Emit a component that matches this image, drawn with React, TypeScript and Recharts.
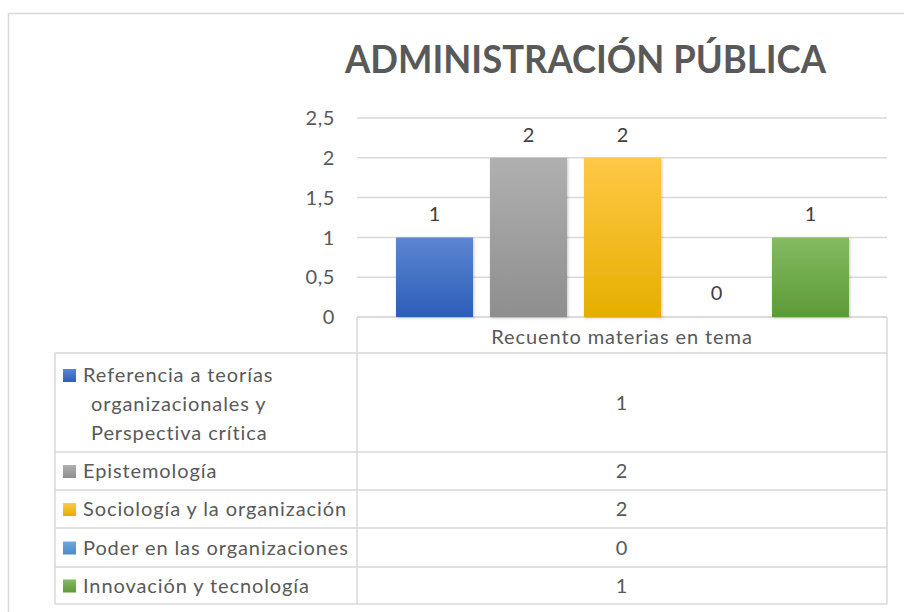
import { Bar, BarChart, CartesianGrid, LabelList, XAxis, YAxis } from 'recharts';

const chartTitle = 'ADMINISTRACIÓN PÚBLICA';
const categoryLabel = 'Recuento materias en tema';
const seriesNames = [
  'Referencia a teorías organizacionales y Perspectiva crítica',
  'Epistemología',
  'Sociología y la organización',
  'Poder en las organizaciones',
  'Innovación y tecnología'
];
const seriesValues = [1, 2, 2, 0, 1];
const yTicks = [0, 0.5, 1, 1.5, 2, 2.5];

// top / bottom colours of the bar gradients
const seriesColors = [
  ['#5d86d2', '#2c5db8'],
  ['#b0b0b0', '#8e8e8e'],
  ['#ffc846', '#e5af00'],
  ['#6fa8dc', '#4a8bc9'],
  ['#84bb63', '#5c9b35']
];

const chartData = [
  seriesValues.reduce((row: Record<string, number | string>, v, i) => {
    row['s' + i] = v;
    return row;
  }, { category: categoryLabel })
];

// legend label wrapping for the first (long) name
const legendLines = seriesNames.map((n, i) => (i === 0 ? ['Referencia a teorías', 'organizacionales y', 'Perspectiva crítica'] : [n]));

const FONT = 'Lato, "Open Sans", sans-serif';
const TEXT = '#595959';
const LINE = '#d9d9d9';
const textStyle = { fontFamily: FONT, fontSize: 20, letterSpacing: 0.9 };

// layout of the data table
const plotLeft = 357;
const plotRight = 887;
const axisY = 317;
const headerBottom = 353;
const tableLeft = 55;
const rowBottoms = [452, 490, 528, 567, 604];

function Overlay() {
  const rowTops = [headerBottom, ...rowBottoms.slice(0, -1)];
  const valueX = (plotLeft + plotRight) / 2;
  return (
    <svg width={904} height={612} style={{ position: 'absolute', left: 0, top: 0 }}>
      <defs>
        {seriesColors.map((c, i) => (
          <linearGradient key={i} id={'key' + i} x1="0" y1="0" x2="0" y2="1">
            <stop offset="0%" stopColor={c[0]} />
            <stop offset="100%" stopColor={c[1]} />
          </linearGradient>
        ))}
      </defs>
      <rect x={8.5} y={13.5} width={920} height={620} fill="#fff" stroke={LINE} strokeWidth={1.5} />
      <text x={585.5} y={73} textAnchor="middle" fill={TEXT} fontFamily={FONT} fontWeight={700} fontSize={39} textLength={481} lengthAdjust="spacingAndGlyphs">
        {chartTitle}
      </text>

      <g stroke={LINE} strokeWidth={1.5} fill="none">
        <line x1={plotLeft} y1={axisY} x2={plotRight} y2={axisY} />
        <line x1={plotLeft} y1={axisY} x2={plotLeft} y2={604} />
        <line x1={plotRight} y1={axisY} x2={plotRight} y2={604} />
        <line x1={tableLeft} y1={headerBottom} x2={plotRight} y2={headerBottom} />
        <line x1={tableLeft} y1={headerBottom} x2={tableLeft} y2={604} />
        {rowBottoms.map((y) => (
          <line key={y} x1={tableLeft} y1={y} x2={plotRight} y2={y} />
        ))}
      </g>

      <text x={valueX} y={344} textAnchor="middle" fill={TEXT} style={textStyle}>
        {categoryLabel}
      </text>

      {seriesNames.map((name, i) => {
        const top = rowTops[i];
        const bottom = rowBottoms[i];
        const lines = legendLines[i];
        const mid = (top + bottom) / 2;
        const firstY = lines.length > 1 ? top + 29 : mid + 7;
        return (
          <g key={name}>
            <rect x={63} y={firstY - 13} width={13} height={13} fill={'url(#key' + i + ')'} />
            {lines.map((ln, j) => (
              <text key={j} x={j === 0 ? 83 : 91} y={firstY + j * 29} fill={TEXT} style={textStyle}>
                {ln}
              </text>
            ))}
            <text x={valueX} y={mid + 7} textAnchor="middle" fill={TEXT} style={textStyle}>
              {seriesValues[i]}
            </text>
          </g>
        );
      })}
    </svg>
  );
}

export default function App() {
  return (
    <div style={{ position: 'relative', width: 904, height: 612, overflow: 'hidden' }}>
      <style>{'body{margin:0;overflow:hidden;}'}</style>
      <Overlay />
      <div style={{ position: 'absolute', left: 0, top: 0 }}>
        <BarChart width={904} height={612} data={chartData} margin={{ top: 118, right: 17, bottom: 295, left: 307 }} barSize={77} barGap={17}>
          <defs>
            {seriesColors.map((c, i) => (
              <linearGradient key={i} id={'bar' + i} x1="0" y1="0" x2="0" y2="1">
                <stop offset="0%" stopColor={c[0]} />
                <stop offset="100%" stopColor={c[1]} />
              </linearGradient>
            ))}
            <filter id="barShadow" x="-10%" y="-10%" width="130%" height="130%">
              <feDropShadow dx="1" dy="1" stdDeviation="1.5" floodColor="#000" floodOpacity="0.22" />
            </filter>
          </defs>
          <CartesianGrid vertical={false} stroke={LINE} strokeWidth={1.5} />
          <XAxis dataKey="category" hide />
          <YAxis
            width={50}
            domain={[0, 2.5]}
            ticks={yTicks}
            interval={0}
            axisLine={false}
            tickLine={false}
            tickMargin={16}
            tickFormatter={(v: number) => String(v).replace('.', ',')}
            tick={{ fill: TEXT, fontSize: 20, fontFamily: FONT, letterSpacing: 0.6 }}
          />
          {seriesNames.map((name, i) => (
            <Bar
              key={name}
              dataKey={'s' + i}
              name={name}
              fill={'url(#bar' + i + ')'}
              fillOpacity={seriesValues[i] === 0 ? 0 : 1}
              filter={seriesValues[i] === 0 ? undefined : 'url(#barShadow)'}
              minPointSize={seriesValues[i] === 0 ? 1 : 0}
              isAnimationActive={false}
            >
              <LabelList dataKey={'s' + i} position="top" offset={16} fill="#404040" fontSize={20} fontFamily={FONT} />
            </Bar>
          ))}
        </BarChart>
      </div>
    </div>
  );
}
